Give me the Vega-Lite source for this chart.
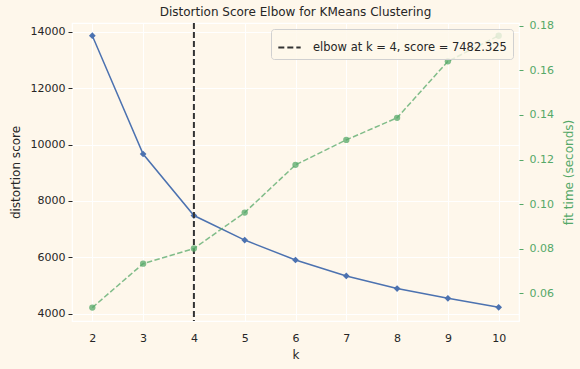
{
  "$schema": "https://vega.github.io/schema/vega-lite/v6.json",
  "width": 447,
  "height": 298,
  "autosize": "none",
  "padding": {"left": 72, "top": 23, "right": 61, "bottom": 48},
  "background": "#fef7eb",
  "title": {"text": "Distortion Score Elbow for KMeans Clustering", "fontSize": 12, "fontWeight": "normal", "color": "#262626", "font": "DejaVu Sans", "offset": 1},
  "data": {"values": [
    {"k": 2, "distortion": 13869, "fit_time": 0.0536},
    {"k": 3, "distortion": 9667, "fit_time": 0.0733},
    {"k": 4, "distortion": 7482.325, "fit_time": 0.0801},
    {"k": 5, "distortion": 6612, "fit_time": 0.0962},
    {"k": 6, "distortion": 5904, "fit_time": 0.1176},
    {"k": 7, "distortion": 5338, "fit_time": 0.1288},
    {"k": 8, "distortion": 4889, "fit_time": 0.1387},
    {"k": 9, "distortion": 4542, "fit_time": 0.1640},
    {"k": 10, "distortion": 4223, "fit_time": 0.1755}
  ]},
  "encoding": {
    "x": {"field": "k", "type": "quantitative", "scale": {"domain": [1.6, 10.4], "nice": false, "zero": false},
      "axis": {"values": [2,3,4,5,6,7,8,9,10], "title": "k", "ticks": false, "labelPadding": 11, "titlePadding": 6}}
  },
  "layer": [
    {
      "encoding": {
        "y": {"field": "distortion", "type": "quantitative", "scale": {"domain": [3738, 14319], "nice": false, "zero": false},
          "axis": {"values": [4000,6000,8000,10000,12000,14000], "format": "d", "title": "distortion score", "tickSize": 4, "tickColor": "#262626", "ticks": true, "labelPadding": 3, "titlePadding": 8}}
      },
      "layer": [
        {"mark": {"type": "line", "color": "#4c72b0", "strokeWidth": 1.5}},
        {"mark": {"type": "point", "shape": "diamond", "filled": true, "color": "#4c72b0", "size": 45, "opacity": 1}}
      ]
    },
    {
      "data": {"values": [{"k": 4, "label": "elbow at k = 4, score = 7482.325"}]},
      "mark": {"type": "rule", "strokeWidth": 2, "strokeDash": [6, 3]},
      "encoding": {
        "x": {"field": "k", "type": "quantitative"},
        "color": {"field": "label", "type": "nominal", "scale": {"range": ["#333333"]},
          "legend": {"title": null, "orient": "top-right", "offset": 6, "symbolType": "stroke", "symbolDash": [6, 3], "symbolStrokeWidth": 2, "symbolSize": 500, "symbolStrokeColor": "#333333", "labelFontSize": 11.5, "labelFont": "DejaVu Sans", "labelColor": "#262626", "labelLimit": 400, "fillColor": "rgba(254,247,235,0.8)", "strokeColor": "#d0d0d0", "cornerRadius": 3, "padding": 6, "labelOffset": 11}}
      }
    },
    {
      "encoding": {
        "y": {"field": "fit_time", "type": "quantitative", "scale": {"domain": [0.0476, 0.1812], "nice": false, "zero": false},
          "axis": {"orient": "right", "values": [0.06,0.08,0.10,0.12,0.14,0.16,0.18], "format": ".2f", "title": "fit time (seconds)", "titleAngle": 270, "titleBaseline": "bottom", "grid": false, "labelColor": "#55a868", "titleColor": "#55a868", "tickColor": "#55a868", "ticks": true, "tickSize": 4, "labelPadding": 6, "titlePadding": 22}}
      },
      "layer": [
        {"mark": {"type": "line", "color": "#55a868", "strokeWidth": 1.5, "strokeDash": [5.5, 2.4], "opacity": 0.75}},
        {"mark": {"type": "point", "shape": "circle", "filled": true, "color": "#55a868", "size": 40, "opacity": 0.75}}
      ]
    }
  ],
  "resolve": {"scale": {"y": "independent", "color": "independent"}},
  "config": {
    "view": {"stroke": "white", "strokeWidth": 1.2, "fill": "#fef7eb"},
    "axis": {"domain": false, "gridColor": "white", "gridWidth": 1, "gridOpacity": 1, "labelFont": "DejaVu Sans", "titleFont": "DejaVu Sans", "labelFontSize": 11, "titleFontSize": 12, "titleFontWeight": "normal", "labelColor": "#262626", "titleColor": "#262626"}
  }
}
